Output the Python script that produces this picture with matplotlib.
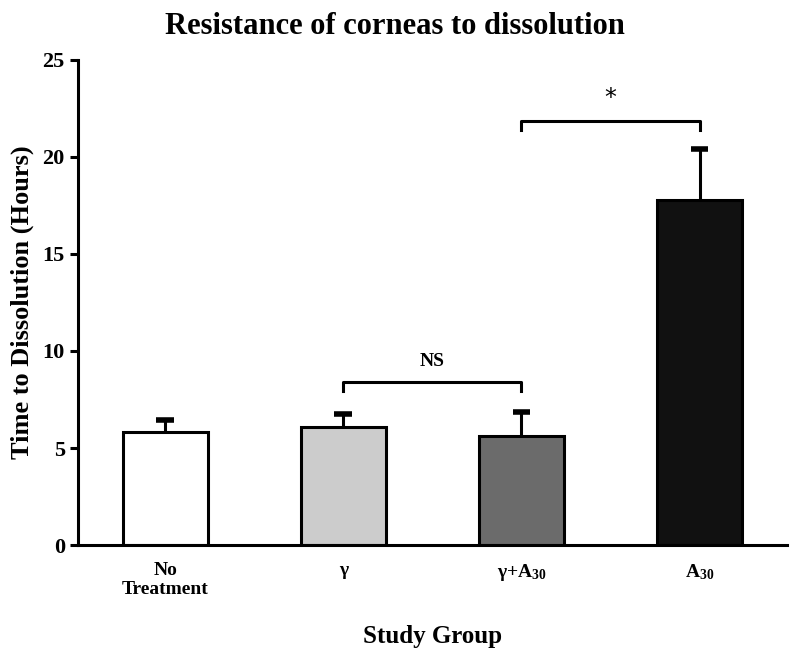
import matplotlib
matplotlib.use('Agg')
import matplotlib.pyplot as plt
import numpy as np

groups = ['No\nTreatment', 'γ', 'γ+A$_{30}$', 'A$_{30}$']
means = [5.82, 6.08, 5.62, 17.8]
errs = [0.62, 0.7, 1.22, 2.6]
colors = ['#ffffff', '#cccccc', '#6b6b6b', '#111111']
# significance brackets: (left group, right group, height, label)
brackets = [(1, 2, 8.4, 'NS'), (2, 3, 21.85, '*')]

plt.rcParams['font.family'] = ['Liberation Serif', 'DejaVu Serif']
plt.rcParams['font.weight'] = 'bold'
plt.rcParams['mathtext.fontset'] = 'custom'
plt.rcParams['mathtext.rm'] = 'Liberation Serif:bold'
plt.rcParams['mathtext.it'] = 'Liberation Serif:bold'
plt.rcParams['mathtext.bf'] = 'Liberation Serif:bold'

fig = plt.figure(figsize=(8, 6.64), dpi=100)
ax = fig.add_axes([0.0975, 0.179, 0.886, 0.731])

x = np.arange(len(groups))
tops = np.array(means) + np.array(errs)
ax.bar(x, means, width=0.48, color=colors, edgecolor='black', linewidth=2.2, zorder=2)
# upper error bars only
ax.vlines(x, means, tops, color='black', lw=2.2, zorder=1)
ax.hlines(tops, x - 0.05, x + 0.05, color='black', lw=4, zorder=1)

for a, b, h, lab in brackets:
    ax.plot([a, a, b, b], [h - 0.45, h, h, h - 0.45], color='black', lw=2.2,
            solid_joinstyle='round', clip_on=False)
    if lab == '*':
        ax.text((a + b) / 2, h + 0.55, lab, ha='center', va='bottom', fontsize=17,
                family='DejaVu Sans', fontweight='normal')
    else:
        ax.text((a + b) / 2, h + 0.6, lab, ha='center', va='bottom', fontsize=14)

ax.set_xlim(-0.49, 3.49)
ax.set_ylim(0, 25)
ax.set_yticks([0, 5, 10, 15, 20, 25])
ax.set_xticks(x)
ax.set_xticklabels(groups, fontsize=14, fontweight='bold', va='top')
ax.tick_params(axis='x', length=0, pad=12)
ax.tick_params(axis='y', length=6, width=2.2, labelsize=16, direction='out')
for lab in ax.get_yticklabels():
    lab.set_fontweight('bold')

for s in ['top', 'right']:
    ax.spines[s].set_visible(False)
for s in ['left', 'bottom']:
    ax.spines[s].set_linewidth(2.2)

ax.set_ylabel('Time to Dissolution (Hours)', fontsize=19, fontweight='bold', labelpad=6)
ax.set_xlabel('Study Group', fontsize=18, fontweight='bold', labelpad=19)
fig.suptitle('Resistance of corneas to dissolution', fontsize=22, fontweight='bold',
             x=0.494, y=0.982)

fig.savefig('out.png', dpi=100)
